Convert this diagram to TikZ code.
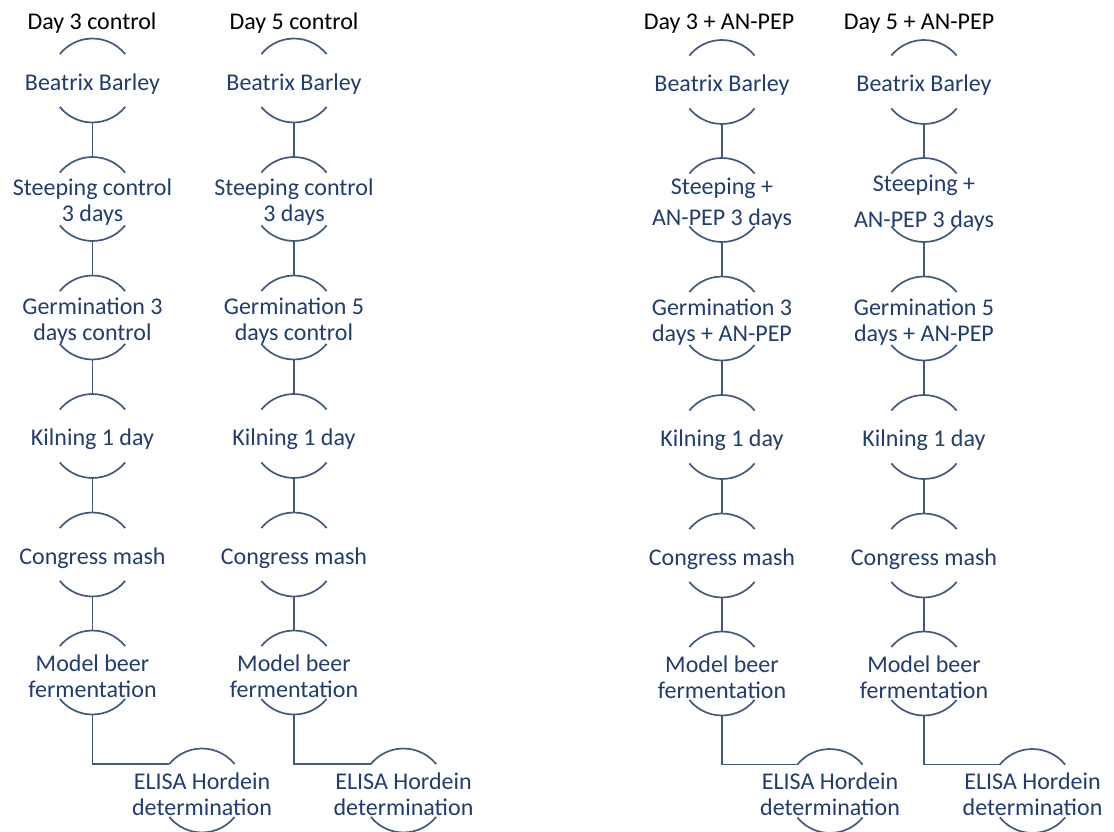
\documentclass[tikz,border=0pt]{standalone}
\usepackage{fontspec}
\setmainfont{Carlito}
\definecolor{arcblue}{HTML}{41597F}
\definecolor{txtblue}{HTML}{203C70}
\begin{document}
\begin{tikzpicture}[x=1pt,y=1pt,
  stage/.style={circle, minimum size=84pt, inner sep=0pt, outer sep=0pt},
  stagetext/.style={text=txtblue, font=\fontsize{24}{26}\selectfont, align=center, inner sep=0pt, yshift=-3.5pt},
  title/.style={text=black, font=\fontsize{24}{26}\selectfont, anchor=base, inner sep=0pt},
  arcline/.style={draw=arcblue, line width=1.7pt},
  conn/.style={draw=arcblue, line width=1.7pt}]
\useasboundingbox (0,0) rectangle (1114,-832);
% titles
\node[title] (t1) at (92,-29.5) {Day 3 control};
\node[title] (t2) at (294,-29.5) {Day 5 control};
\node[title] (t3) at (719,-29.5) {Day 3 + AN-PEP};
\node[title] (t4) at (919,-29.5) {Day 5 + AN-PEP};
% column 1
\node[stage, label={[stagetext]center:Beatrix Barley}] (a1) at (92.5,-80.5) {};
\node[stage, label={[stagetext]center:Steeping control\\3 days}] (b1) at (92.5,-199) {};
\node[stage, label={[stagetext]center:Germination 3\\days control}] (c1) at (92.5,-317.5) {};
\node[stage, label={[stagetext]center:Kilning 1 day}] (d1) at (92.5,-436) {};
\node[stage, label={[stagetext]center:Congress mash}] (e1) at (92.5,-554.5) {};
\node[stage, label={[stagetext]center:Model beer\\fermentation}] (f1) at (92.5,-672.5) {};
\node[stage, label={[stagetext]center:ELISA Hordein\\determination}] (g1) at (202,-790.5) {};
% column 2
\node[stage, label={[stagetext]center:Beatrix Barley}] (a2) at (294,-80.5) {};
\node[stage, label={[stagetext]center:Steeping control\\3 days}] (b2) at (294,-199) {};
\node[stage, label={[stagetext]center:Germination 5\\days control}] (c2) at (294,-317.5) {};
\node[stage, label={[stagetext]center:Kilning 1 day}] (d2) at (294,-436) {};
\node[stage, label={[stagetext]center:Congress mash}] (e2) at (294,-554.5) {};
\node[stage, label={[stagetext]center:Model beer\\fermentation}] (f2) at (294,-672.5) {};
\node[stage, label={[stagetext]center:ELISA Hordein\\determination}] (g2) at (403.5,-790.5) {};
% column 3
\node[stage, label={[stagetext]center:Beatrix Barley}] (a3) at (722,-82) {};
\node[stage, label={[stagetext, font=\fontsize{24}{31}\selectfont]center:Steeping +\\AN-PEP 3 days}] (b3) at (722,-200) {};
\node[stage, label={[stagetext]center:Germination 3\\days + AN-PEP}] (c3) at (722,-318.5) {};
\node[stage, label={[stagetext]center:Kilning 1 day}] (d3) at (722,-437) {};
\node[stage, label={[stagetext]center:Congress mash}] (e3) at (722,-555.5) {};
\node[stage, label={[stagetext]center:Model beer\\fermentation}] (f3) at (722,-673.5) {};
\node[stage, label={[stagetext]center:ELISA Hordein\\determination}] (g3) at (830,-791) {};
% column 4
\node[stage, label={[stagetext]center:Beatrix Barley}] (a4) at (924,-82) {};
\node[stage, label={[stagetext, font=\fontsize{24}{36}\selectfont]center:Steeping +\\AN-PEP 3 days}] (b4) at (924,-200) {};
\node[stage, label={[stagetext]center:Germination 5\\days + AN-PEP}] (c4) at (924,-318.5) {};
\node[stage, label={[stagetext]center:Kilning 1 day}] (d4) at (924,-437) {};
\node[stage, label={[stagetext]center:Congress mash}] (e4) at (924,-555.5) {};
\node[stage, label={[stagetext]center:Model beer\\fermentation}] (f4) at (924,-673.5) {};
\node[stage, label={[stagetext]center:ELISA Hordein\\determination}] (g4) at (1032.5,-791) {};
% arcs
\foreach \c in {1,2,3,4}{
  \foreach \r in {a,b,c,d,e,f,g}{
    \draw[arcline] (\r\c.39) arc[start angle=39, end angle=141, radius=42pt];
    \draw[arcline] (\r\c.-39) arc[start angle=-39, end angle=-141, radius=42pt];
  }
  \draw[conn] (a\c.south) -- (b\c.north);
  \draw[conn] (b\c.south) -- (c\c.north);
  \draw[conn] (c\c.south) -- (d\c.north);
  \draw[conn] (d\c.south) -- (e\c.north);
  \draw[conn] (e\c.south) -- (f\c.north);
  \draw[conn] (f\c.south) |- (g\c.141);
}
\end{tikzpicture}
\end{document}
